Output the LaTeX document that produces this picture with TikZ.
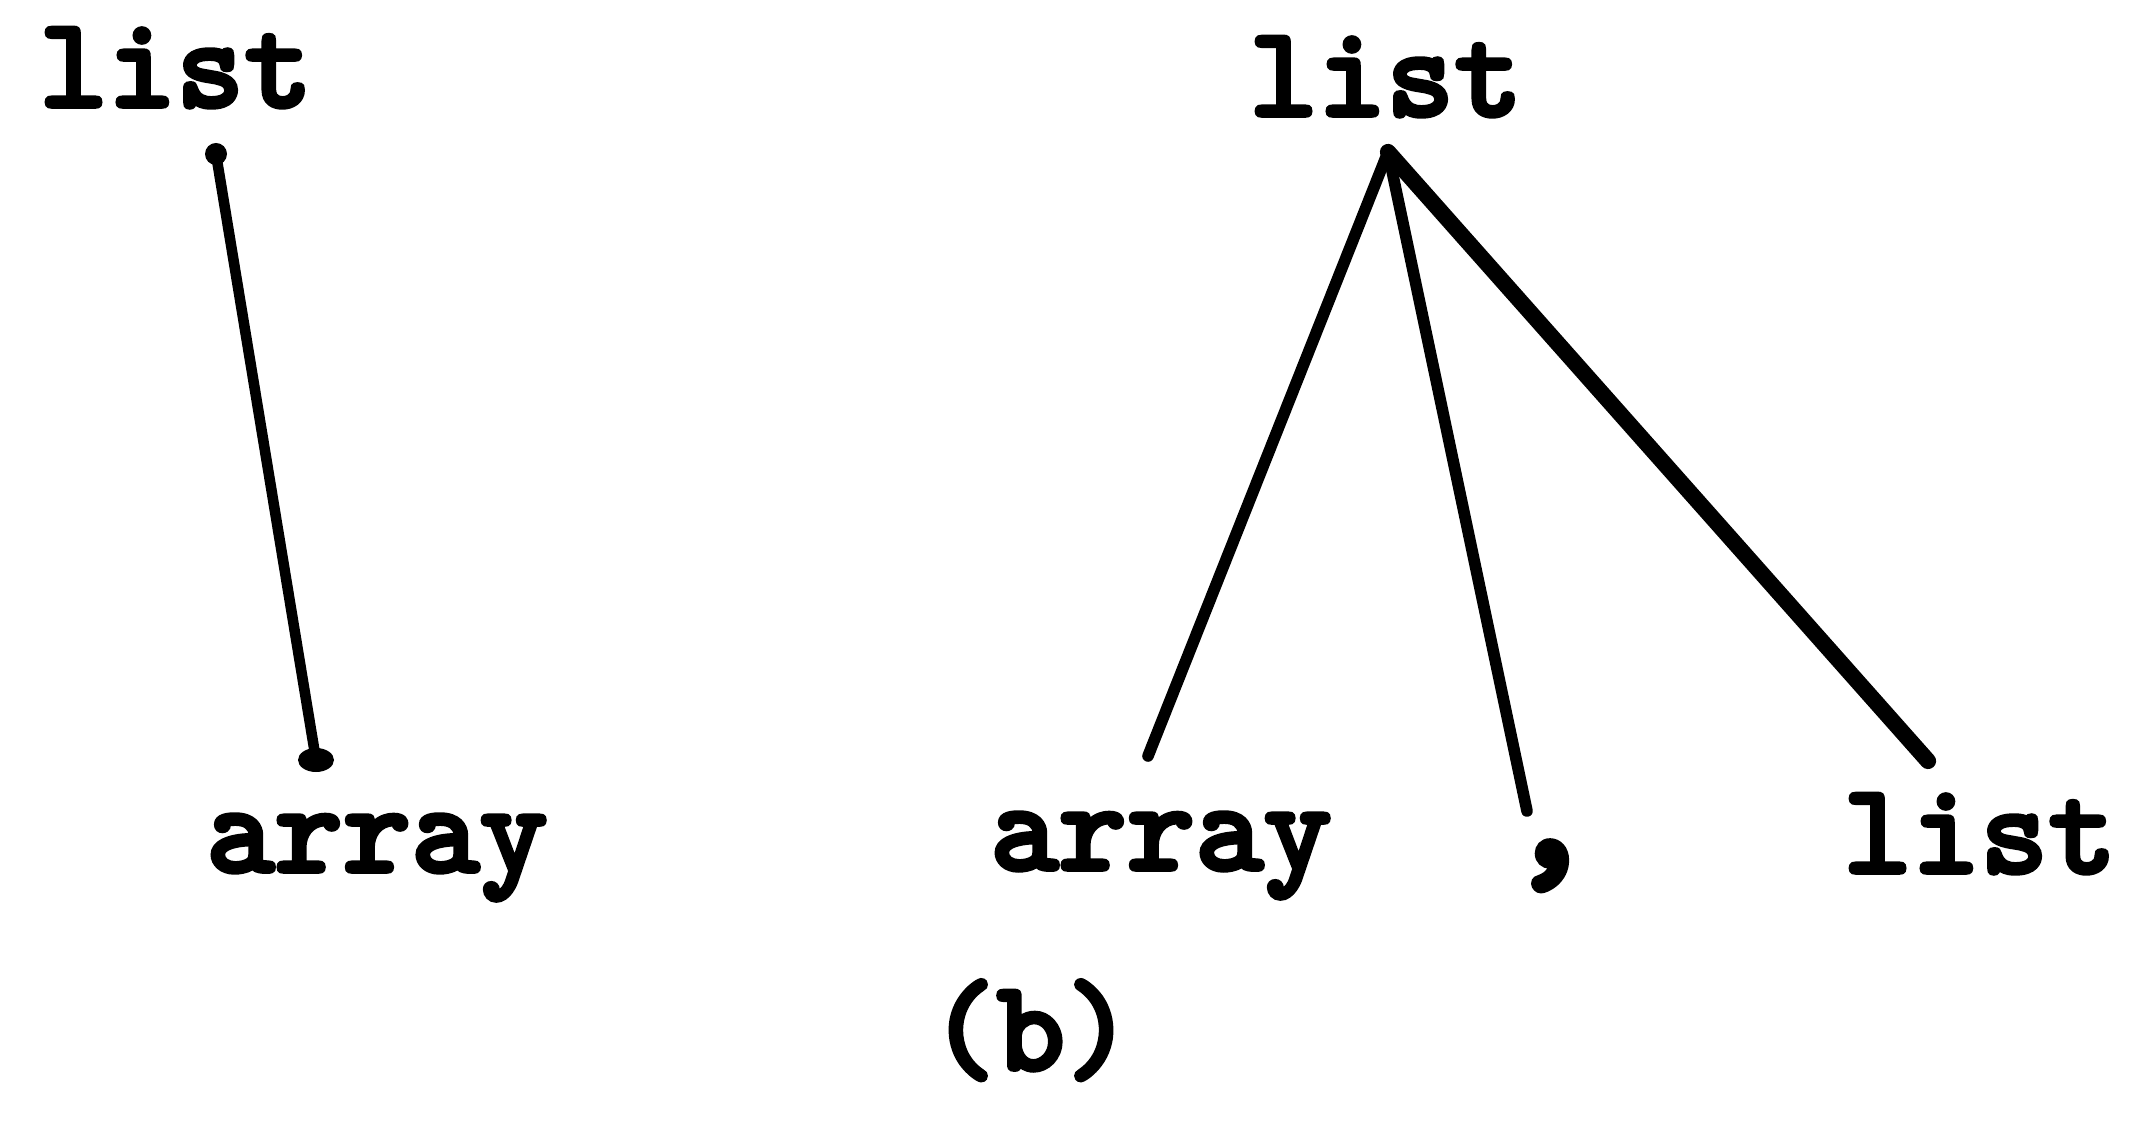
\documentclass[tikz,border=0pt]{standalone}
\usepackage{fontspec}
\newfontfamily\typer{lmmonolt10-bold}[Extension=.otf,FakeBold=3]
\begin{document}
\begin{tikzpicture}[x=0.01cm,y=-0.01cm,
  word/.style={inner sep=0pt,anchor=base,font=\typer\fontsize{37pt}{44pt}\selectfont},
  punct/.style={inner sep=0pt,anchor=base,font=\typer\fontsize{52pt}{60pt}\selectfont},
  branch/.style={line width=3.3pt,line cap=round},
  heavy/.style={line width=4.6pt,line cap=round},
  blob/.style={fill=black}]
\useasboundingbox (0,0) rectangle (2155,1137);

% left tree: list -> array
\node[word] (la) at (176,107) {list};
\node[word] (lb) at (377,872) {array};
\coordinate (la-foot) at (216,154);
\coordinate (lb-head) at (316,760);
\draw[branch,line width=3pt] (la-foot) -- (lb-head);
\fill[blob] (la-foot) circle[radius=11];
\fill[blob] (lb-head) ellipse[x radius=18,y radius=12];

% right tree: list -> array , list
\node[word] (ra) at (1386,116) {list};
\node[word] (rb) at (1161,870) {array};
\node[punct] (rc) at (1550,866) {,};
\node[word] (rd) at (1980,873) {list};
\coordinate (apex) at (1388,152);
\coordinate (rb-head) at (1148,756);
\coordinate (rc-head) at (1527,811);
\coordinate (rd-head) at (1928,761);
\draw[branch] (apex) -- (rb-head);
\draw[branch] (apex) -- (rc-head);
\draw[heavy] (apex) -- (rd-head);

% caption
\node[word] (cap) at (1031,1070) {(b)};
\end{tikzpicture}
\end{document}
